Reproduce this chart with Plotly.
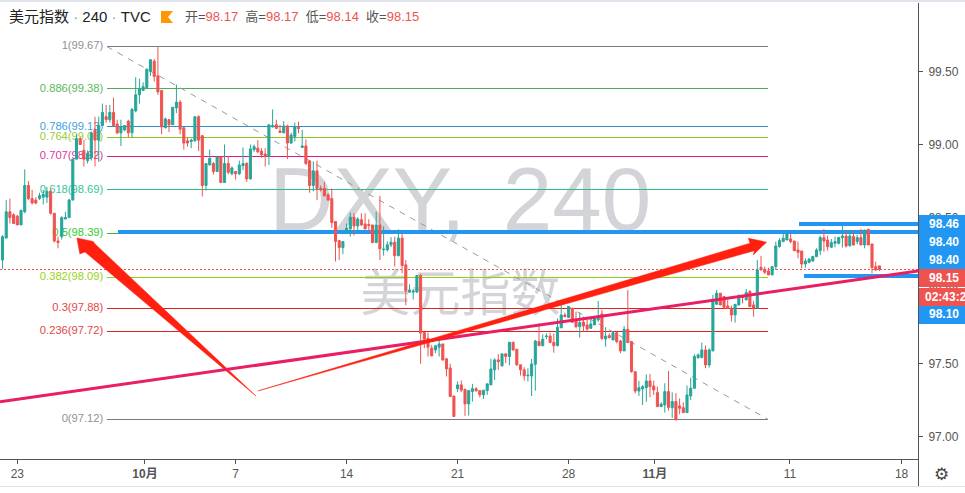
import plotly.graph_objects as go

# ---------- candle values (price) ----------
opens = [
98.21,98.36,98.54,98.52,98.51,98.45,98.54,98.72,98.63,98.62,
98.63,98.64,98.64,98.68,98.53,98.34,98.37,98.49,98.50,98.62,
98.90,99.04,98.96,98.89,98.91,99.10,99.03,99.13,99.19,99.17,
99.22,99.14,99.08,99.10,99.16,99.08,99.23,99.34,99.37,99.39,
99.50,99.57,99.47,99.37,99.115,99.17,99.135,99.25,99.29,99.115,
99.025,99.02,99.025,99.19,99.06,98.72,98.86,98.87,98.815,98.915,
98.74,98.87,98.80,98.815,98.80,98.855,98.87,98.765,98.965,98.975,
98.955,98.935,98.92,99.12,99.135,99.093,99.08,99.127,99.01,99.055,
99.118,98.98,98.99,98.887,98.72,98.82,98.70,98.70,98.656,98.63,
98.473,98.343,98.295,98.397,98.423,98.503,98.443,98.485,98.457,98.453,
98.45,98.33,98.45,98.28,98.28,98.314,98.332,98.24,98.36,98.177,
97.99,97.99,97.99,98.104,97.714,97.675,97.607,97.595,97.614,97.636,
97.534,97.472,97.28,97.33,97.356,97.326,97.226,97.31,97.33,97.317,
97.288,97.317,97.356,97.459,97.527,97.486,97.568,97.55,97.648,97.6,
97.493,97.459,97.418,97.417,97.497,97.652,97.624,97.686,97.69,97.647,
97.624,97.747,97.834,97.816,97.88,97.804,97.754,97.786,97.766,97.743,
97.766,97.80,97.841,97.67,97.693,97.663,97.713,97.656,97.588,97.736,
97.652,97.446,97.314,97.328,97.337,97.383,97.348,97.303,97.207,97.219,
97.31,97.20,97.242,97.212,97.2,97.166,97.28,97.333,97.543,97.543,
97.595,97.492,97.588,97.907,97.983,97.96,97.896,97.88,97.834,97.903,
97.96,97.937,97.994,97.903,97.88,98.16,98.147,98.135,98.108,98.165,
98.302,98.336,98.347,98.354,98.34,98.279,98.272,98.183,98.194,98.203,
98.233,98.274,98.363,98.347,98.297,98.324,98.324,98.363,98.374,98.308,
98.37,98.336,98.363,98.313,98.42,98.32,98.165,98.17]

highs = [
98.38,98.62,98.63,98.53,98.52,98.55,98.83,98.75,98.69,98.64,
98.67,98.69,98.71,98.69,98.53,98.37,98.51,98.54,98.63,98.90,
99.07,99.05,99.03,98.96,99.09,99.19,99.19,99.28,99.27,99.27,
99.32,99.17,99.17,99.13,99.17,99.25,99.46,99.45,99.425,99.52,
99.58,99.585,99.67,99.37,99.185,99.175,99.255,99.41,99.305,99.115,
99.05,99.04,99.195,99.20,99.065,98.87,98.965,98.88,98.915,98.915,
99.0,98.915,98.85,98.82,98.89,98.98,98.88,99.0,99.0,99.03,
98.975,98.975,99.135,99.24,99.17,99.135,99.16,99.135,99.08,99.15,
99.157,99.1,99.035,98.895,98.885,98.89,98.72,98.745,98.667,98.70,
98.473,98.348,98.34,98.46,98.535,98.53,98.503,98.53,98.53,98.489,
98.45,98.54,98.649,98.44,98.337,98.366,98.37,98.42,98.39,98.21,
98.044,98.01,98.108,98.115,97.714,97.714,97.63,97.63,97.664,97.636,
97.538,97.50,97.28,97.38,97.386,97.326,97.317,97.363,97.34,97.32,
97.32,97.363,97.534,97.538,97.566,97.573,97.573,97.648,97.648,97.6,
97.493,97.477,97.47,97.533,97.663,97.777,97.702,97.708,97.713,97.708,
97.81,97.902,97.85,97.896,97.88,97.857,97.85,97.823,97.818,97.818,
97.823,97.93,97.868,97.75,97.709,97.72,97.72,97.663,97.759,98.005,
97.652,97.45,97.383,97.355,97.428,97.43,97.385,97.344,97.237,97.367,
97.451,97.305,97.30,97.264,97.237,97.351,97.406,97.565,97.572,97.645,
97.625,97.606,97.971,98.005,97.983,97.96,97.937,97.898,97.907,97.976,
97.971,98.012,98.005,97.93,98.21,98.238,98.165,98.158,98.17,98.336,
98.359,98.393,98.40,98.393,98.34,98.336,98.272,98.222,98.222,98.235,
98.29,98.377,98.422,98.377,98.354,98.37,98.365,98.445,98.415,98.415,
98.409,98.381,98.422,98.415,98.422,98.32,98.199,98.17]

lows = [
98.15,98.36,98.46,98.46,98.45,98.45,98.53,98.62,98.59,98.59,
98.62,98.59,98.60,98.52,98.33,98.29,98.35,98.49,98.50,98.62,
98.90,99.00,98.85,98.87,98.89,98.85,98.88,99.13,99.15,99.15,
99.13,99.07,98.99,99.09,99.05,99.05,99.22,99.28,99.37,99.385,
99.47,99.43,99.34,99.07,99.11,99.085,99.135,99.215,99.07,98.965,
98.985,98.975,99.02,98.955,98.645,98.685,98.86,98.795,98.815,98.74,
98.74,98.795,98.79,98.76,98.79,98.825,98.745,98.76,98.95,98.94,
98.91,98.85,98.86,99.118,99.105,99.08,99.077,98.90,99.005,99.02,
99.077,98.98,98.86,98.67,98.68,98.62,98.68,98.645,98.617,98.43,
98.20,98.21,98.25,98.393,98.37,98.378,98.405,98.444,98.42,98.398,
98.325,98.325,98.21,98.24,98.268,98.298,98.165,98.234,98.12,97.90,
97.988,97.94,97.988,97.50,97.607,97.55,97.55,97.573,97.55,97.52,
97.413,97.276,97.14,97.306,97.306,97.144,97.146,97.242,97.31,97.27,
97.26,97.288,97.356,97.39,97.459,97.48,97.504,97.49,97.59,97.486,
97.42,97.385,97.38,97.28,97.316,97.624,97.62,97.668,97.64,97.576,
97.62,97.743,97.818,97.816,97.78,97.743,97.679,97.72,97.72,97.738,
97.766,97.788,97.663,97.617,97.674,97.663,97.64,97.572,97.588,97.645,
97.44,97.298,97.28,97.218,97.241,97.271,97.287,97.207,97.207,97.166,
97.18,97.13,97.116,97.155,97.166,97.166,97.253,97.333,97.533,97.538,
97.47,97.474,97.588,97.907,97.9,97.88,97.875,97.789,97.782,97.898,
97.914,97.937,97.891,97.823,97.88,98.14,98.113,98.108,98.108,98.142,
98.295,98.336,98.347,98.324,98.27,98.222,98.153,98.158,98.187,98.199,
98.233,98.244,98.267,98.274,98.297,98.297,98.317,98.295,98.295,98.301,
98.308,98.317,98.313,98.29,98.313,98.119,98.137,98.135]

closes = [
98.37,98.54,98.50,98.46,98.45,98.55,98.72,98.63,98.60,98.60,
98.65,98.66,98.68,98.53,98.34,98.33,98.50,98.50,98.62,98.90,
99.04,99.00,98.90,98.94,99.08,99.03,99.13,99.22,99.17,99.22,
99.13,99.08,99.12,99.13,99.08,99.24,99.34,99.38,99.395,99.515,
99.58,99.465,99.36,99.12,99.175,99.135,99.255,99.29,99.105,99.01,
99.01,99.03,99.19,99.03,98.72,98.87,98.905,98.815,98.915,98.74,
98.87,98.81,98.84,98.80,98.86,98.87,98.765,98.97,98.985,98.95,
98.93,98.92,99.135,99.13,99.11,99.082,99.127,99.01,99.065,99.12,
99.11,98.99,98.87,98.72,98.82,98.70,98.695,98.65,98.62,98.466,
98.337,98.295,98.336,98.428,98.503,98.443,98.49,98.45,98.423,98.446,
98.33,98.45,98.287,98.284,98.314,98.332,98.24,98.36,98.172,98.0,
98.005,97.997,98.104,97.71,97.668,97.614,97.555,97.623,97.636,97.527,
97.465,97.276,97.14,97.356,97.32,97.226,97.317,97.33,97.315,97.288,
97.32,97.363,97.465,97.527,97.515,97.568,97.55,97.648,97.595,97.493,
97.459,97.418,97.422,97.499,97.656,97.624,97.668,97.69,97.647,97.624,
97.75,97.834,97.823,97.891,97.784,97.754,97.782,97.759,97.738,97.772,
97.811,97.811,97.674,97.69,97.679,97.713,97.652,97.588,97.736,97.645,
97.446,97.314,97.337,97.344,97.383,97.344,97.321,97.207,97.225,97.31,
97.202,97.242,97.116,97.196,97.166,97.287,97.333,97.55,97.561,97.595,
97.492,97.595,97.937,97.983,97.903,97.887,97.88,97.834,97.907,97.96,
97.953,97.987,97.891,97.88,98.142,98.142,98.126,98.108,98.165,98.306,
98.343,98.359,98.393,98.336,98.274,98.263,98.183,98.203,98.217,98.235,
98.279,98.363,98.34,98.301,98.329,98.336,98.365,98.374,98.306,98.374,
98.313,98.363,98.313,98.415,98.313,98.158,98.142,98.146]

bars = list(range(len(opens)))

# ---------- axes ----------
x_tick_bars = [4, 38.5, 63, 93, 123, 153, 176.3, 212.8, 243]
x_tick_labels = ["23", "<b>10月</b>", "7", "14", "21", "28", "<b>11月</b>", "11", "18"]
y_ticks = [97.0, 97.5, 98.0, 98.5, 99.0, 99.5]
y_tick_labels = ["97.00", "97.50", "98.00", "98.50", "99.00", "99.50"]
x_range = [-0.68, 247.43]
y_range = [96.849, 99.968]

# ---------- Fibonacci retracement ----------
fib_start, fib_end = 28.24, 206.9
fib_prices = [99.67, 99.38, 99.12, 99.05, 98.92, 98.69, 98.39, 98.09, 97.88, 97.72, 97.12]
fib_labels = ["1(99.67)", "0.886(99.38)", "0.786(99.13)", "0.764(99.06)", "0.707(98.92)",
              "0.618(98.69)", "0.5(98.39)", "0.382(98.09)", "0.3(97.88)", "0.236(97.72)", "0(97.12)"]
fib_lines = ["#787b86", "#4caf50", "#2e8fc9", "#8fc31f", "#d81b8c", "#2dbb8a",
             "#27c227", "#8fce0e", "#dd2222", "#dd2222", "#787b86"]
fib_texts = ["#8f9198", "#5cb85c", "#3f9fe0", "#9ccc33", "#e0359b", "#35c79a",
             "#33cc33", "#9ad21c", "#e04848", "#e04848", "#8f9198"]
diagonal_x = [28.24, 206.9]
diagonal_y = [99.67, 97.12]

# ---------- drawings ----------
last_price = 98.145
blue_levels = [98.40, 98.457, 98.098]
blue_starts = [31.2, 215.3, 216.6]
pink_x = [-0.68, 247.43]
pink_y = [97.24, 98.135]
arrow_a_x = [20.1, 24.5, 25.0, 68.5, 22.3, 20.9, 20.1]
arrow_a_y = [98.361, 98.337, 98.32, 97.28, 98.265, 98.252, 98.361]
arrow_b_x = [69.1, 202.0, 201.6, 206.5, 202.9, 203.2, 69.1]
arrow_b_y = [97.315, 98.325, 98.359, 98.332, 98.245, 98.274, 97.315]

TEAL, RED, BLUE = "#26a69a", "#ef5350", "#2196f3"
SANS = "Liberation Sans, Noto Sans CJK SC, sans-serif"
CJK = "Noto Sans CJK SC, sans-serif"

fig = go.Figure()

# watermark (lowest layer)
fig.add_trace(go.Scatter(x=[98.6, 155.3], y=[98.57, 98.57], mode="text", text=["DXY,", "240"], hoverinfo="skip",
                         textfont=dict(family=SANS, size=89, color="#d3d4d8")))
fig.add_trace(go.Scatter(x=[123.8], y=[97.945], mode="text", text=["美元指数"], hoverinfo="skip",
                         textfont=dict(family=CJK, size=50, color="#d3d4d8")))

# fib levels, labels
for p, c in zip(fib_prices, fib_lines):
    fig.add_trace(go.Scatter(x=[fib_start, fib_end], y=[p, p], mode="lines", hoverinfo="skip",
                             line=dict(color=c, width=1)))
fig.add_trace(go.Scatter(x=[fib_start - 1.0] * len(fib_prices), y=fib_prices, mode="text",
                         text=fib_labels, textposition="middle left", hoverinfo="skip",
                         textfont=dict(family=SANS, size=11.2, color=fib_texts)))
fig.add_trace(go.Scatter(x=diagonal_x, y=diagonal_y, mode="lines", hoverinfo="skip",
                         line=dict(color="#9a9a9a", width=1, dash="6px 6px")))
# last-price line
fig.add_trace(go.Scatter(x=x_range, y=[last_price, last_price], mode="lines", hoverinfo="skip",
                         line=dict(color=RED, width=1, dash="2px 2px")))
# thick blue levels
for lv, st in zip(blue_levels, blue_starts):
    fig.add_trace(go.Scatter(x=[st, x_range[1]], y=[lv, lv], mode="lines", hoverinfo="skip",
                             line=dict(color=BLUE, width=4)))

# candles on overlay axes so they sit above labels/levels
fig.add_trace(go.Candlestick(x=bars, open=opens, high=highs, low=lows, close=closes,
                             xaxis="x2", yaxis="y2", whiskerwidth=0, hoverinfo="skip",
                             increasing=dict(line=dict(color=TEAL, width=1), fillcolor=TEAL),
                             decreasing=dict(line=dict(color=RED, width=1), fillcolor=RED)))

# hand-drawn overlay
fig.add_trace(go.Scatter(x=arrow_a_x, y=arrow_a_y, mode="lines", fill="toself", fillcolor="#ff2010",
                         line=dict(color="#ff2010", width=0.5), xaxis="x3", yaxis="y3", hoverinfo="skip"))
fig.add_trace(go.Scatter(x=pink_x, y=pink_y, mode="lines", line=dict(color="#e91e63", width=3),
                         xaxis="x3", yaxis="y3", hoverinfo="skip"))
fig.add_trace(go.Scatter(x=arrow_b_x, y=arrow_b_y, mode="lines", fill="toself", fillcolor="#ff2010",
                         line=dict(color="#ff2010", width=0.5), xaxis="x3", yaxis="y3", hoverinfo="skip"))

PW, PH, TOP = 918.0, 456.0, 3.0
def px(v): return v / PW
def py(v): return (TOP + PH - v) / PH
def rect(x0, y0, x1, y1, color):
    return dict(type="rect", xref="paper", yref="paper", x0=px(x0), x1=px(x1), y0=py(y0), y1=py(y1),
                fillcolor=color, line=dict(width=0), layer="above")

shapes = [
    rect(919, 215, 965, 269, BLUE),
    rect(919, 269, 965, 287, RED),
    rect(919, 288, 965, 306, RED),
    rect(919, 306, 965, 324, BLUE),
    rect(0, 0, 965, 2, "#e0e3eb"),
    rect(0, 486, 965, 487, "#e0e3eb"),
    dict(type="line", xref="paper", yref="paper", x0=px(918.5), x1=px(918.5), y0=py(459), y1=py(486),
         line=dict(color="#50535e", width=1), layer="above"),
    # orange flag in the header
    dict(type="path", xref="paper", yref="paper", layer="above", fillcolor="#ff9800", line=dict(width=0),
         path=f"M {px(161)} {py(11)} L {px(173)} {py(11)} L {px(168)} {py(17)} L {px(173)} {py(23)} L {px(161)} {py(23)} Z"),
]

annots = []
def note(x, y, text, size=12, color="#555", anchor="left", family=SANS):
    annots.append(dict(xref="paper", yref="paper", x=px(x), y=py(y), text=text, showarrow=False,
                       xanchor=anchor, yanchor="middle", align="left",
                       font=dict(family=family, size=size, color=color)))

tag_texts = ["98.46", "98.40", "98.40", "98.15", "02:43:22", "98.10"]
tag_rows = [224, 242, 260, 278, 297, 314]
for t, r in zip(tag_texts, tag_rows):
    if t == "02:43:22":
        note(923, r, f"<b>{t}</b>", size=12, color="white")
    else:
        note(944, r, f"<b>{t}</b>", size=12, color="white", anchor="center")

dot = '<span style="color:#999">·</span>'
note(7, 16, f"美元指数 {dot} 240 {dot} TVC", size=15, color="#222")
v = lambda s: f'<span style="color:#ef5350">{s}</span>'
note(183, 16, "开=" + v("98.17") + "  高=" + v("98.17") + "  低=" + v("98.14") + "  收=" + v("98.15"),
     size=13, color="#555")
note(941, 474, "⚙", size=17, color="#444", anchor="center", family="DejaVu Sans")

hidden = dict(visible=False, fixedrange=True)
fig.update_layout(
    width=965, height=493, showlegend=False, autosize=False,
    margin=dict(l=0, r=47, t=3, b=34, autoexpand=False),
    paper_bgcolor="white", plot_bgcolor="white", boxgap=0.2,
    shapes=shapes, annotations=annots,
    xaxis=dict(range=x_range, tickmode="array", tickvals=x_tick_bars, ticktext=x_tick_labels,
               ticks="outside", ticklen=4, tickcolor="#50535e", showgrid=False, zeroline=False,
               showline=True, linecolor="#50535e", tickfont=dict(family=SANS, size=12, color="#555"),
               fixedrange=True, rangeslider=dict(visible=False)),
    yaxis=dict(range=y_range, side="right", tickmode="array", tickvals=y_ticks, ticktext=y_tick_labels,
               ticks="outside", ticklen=4, tickcolor="#50535e", showgrid=False, zeroline=False,
               ticklabelstandoff=3,
               showline=True, linecolor="#50535e", tickfont=dict(family=SANS, size=12, color="#555"),
               fixedrange=True),
    xaxis2=dict(range=x_range, overlaying="x", rangeslider=dict(visible=False), **hidden),
    yaxis2=dict(range=y_range, overlaying="y", **hidden),
    xaxis3=dict(range=x_range, overlaying="x", **hidden),
    yaxis3=dict(range=y_range, overlaying="y", **hidden),
)

crisp = """
document.body.style.margin='0';
function crispLevels(){
  document.querySelectorAll('.scatterlayer .js-line').forEach(function(p){
    var m=(p.getAttribute('d')||'').match(/^M[^,]+,([\\d.]+)L[^,]+,([\\d.]+)$/);
    if(m && m[1]===m[2]){ p.style.shapeRendering='crispEdges'; }
  });
}
crispLevels(); setTimeout(crispLevels,50); setTimeout(crispLevels,300);
"""
fig.write_html("out.html", config=dict(displayModeBar=False, staticPlot=True), post_script=crisp)
